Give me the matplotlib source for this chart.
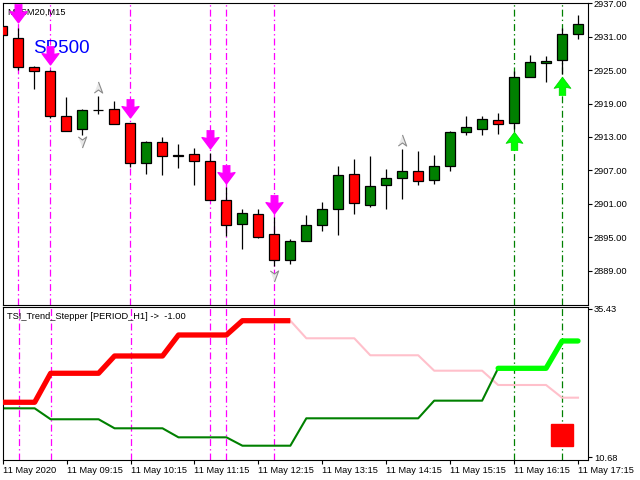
import numpy as np
import matplotlib
matplotlib.use("Agg")
import matplotlib.pyplot as plt

plt.rcParams['font.family'] = ['Liberation Sans', 'DejaVu Sans']
plt.rcParams['lines.scale_dashes'] = False

# candles, 15 min bars from 08:15 to 17:15
opens  = [2932.9, 2930.84, 2925.5, 2924.79, 2916.84, 2914.5, 2917.9, 2917.97, 2915.46, 2908.4,
          2912.17, 2909.7, 2910.02, 2908.76, 2901.76, 2897.45, 2899.24, 2895.65, 2890.98, 2894.4,
          2897.27, 2900.14, 2906.43, 2900.86, 2904.45, 2905.71, 2906.97, 2905.35, 2907.86, 2913.97,
          2914.5, 2916.0, 2915.58, 2923.84, 2926.35, 2926.82, 2931.49]
highs  = [2933.6, 2932.64, 2925.74, 2925.0, 2920.12, 2918.0, 2920.43, 2919.4, 2915.6, 2912.2,
          2913.0, 2911.69, 2910.97, 2910.08, 2904.08, 2900.0, 2900.0, 2898.58, 2894.76, 2898.94,
          2901.27, 2907.74, 2908.99, 2909.53, 2907.2, 2910.79, 2910.43, 2909.71, 2914.15, 2916.71,
          2916.71, 2917.25, 2924.79, 2927.66, 2927.48, 2932.57, 2934.85]
lows   = [2930.8, 2925.1, 2921.61, 2916.48, 2914.1, 2913.36, 2917.2, 2915.4, 2907.6, 2906.35,
          2906.17, 2907.5, 2904.45, 2901.7, 2895.22, 2892.89, 2894.9, 2889.85, 2890.2, 2894.3,
          2896.12, 2895.4, 2899.17, 2900.43, 2900.07, 2901.87, 2904.45, 2904.63, 2906.97, 2913.36,
          2913.36, 2913.6, 2914.5, 2923.8, 2922.94, 2924.25, 2930.54]
closes = [2931.3, 2925.64, 2924.92, 2916.77, 2914.15, 2917.79, 2917.8, 2915.4, 2908.4, 2912.04,
          2909.66, 2909.6, 2908.76, 2901.76, 2897.27, 2899.42, 2895.1, 2890.98, 2894.27, 2897.27,
          2900.14, 2906.25, 2901.22, 2904.27, 2905.71, 2906.97, 2905.17, 2907.86, 2913.97, 2914.74,
          2916.17, 2915.4, 2923.84, 2926.41, 2926.71, 2931.56, 2933.36]

# signals
sell_bars = [1, 3, 8, 13, 14, 17]
sell_y = [2935.2, 2927.67, 2918.15, 2912.59, 2906.31, 2901.01]
buy_bars = [32, 35]
buy_y = [2912.32, 2922.10]
gray_up_bars = [6, 25]
gray_up_y = [2922.01, 2912.41]
gray_dn_bars = [5, 17]
gray_dn_y = [2912.05, 2888.09]

# indicator lines
upper = [19.83, 19.83, 19.83, 24.68, 24.68, 24.68, 24.68, 27.57, 27.57, 27.57,
         27.57, 31.08, 31.08, 31.08, 31.08, 33.47, 33.47, 33.47, 33.47, 30.53,
         30.53, 30.53, 30.53, 27.69, 27.69, 27.69, 27.69, 25.11, 25.11, 25.11,
         25.11, 22.72, 22.72, 22.72, 22.72, 20.60, 20.60]
lower = [18.82, 18.82, 18.82, 16.99, 16.99, 16.99, 16.99, 15.48, 15.48, 15.48,
         15.48, 13.97, 13.97, 13.97, 13.97, 12.57, 12.57, 12.57, 12.57, 17.15,
         17.15, 17.15, 17.15, 17.15, 17.15, 17.15, 17.15, 20.10, 20.10, 20.10,
         20.10, 25.51, 25.51, 25.51, 25.51, 30.08, 30.08]
red_end = 18
lime_start = 31
square_bar = 35
square_val = 14.31

price_ticks = [2937, 2931, 2925, 2919, 2913, 2907, 2901, 2895, 2889]
time_bars = [0, 4, 8, 12, 16, 20, 24, 28, 32, 36]
time_labels = ['11 May 2020', '11 May 09:15', '11 May 10:15', '11 May 11:15', '11 May 12:15',
               '11 May 13:15', '11 May 14:15', '11 May 15:15', '11 May 16:15', '11 May 17:15']

x = np.arange(len(opens))
o = np.array(opens); c = np.array(closes)

fig = plt.figure(figsize=(6.4, 4.8), dpi=100)
ax = fig.add_axes([2.7/640, 175/480, 585/640, 302.3/480])
ax2 = fig.add_axes([2.7/640, 20/480, 585/640, 153/480])

for a in (ax, ax2):
    a.set_xlim(0.044, 36.606)
    for s in a.spines.values():
        s.set_linewidth(0.8)
        s.set_color('black')

ax.set_ylim(2882.84, 2937.11)
ax2.set_ylim(10.18, 35.76)

# vertical signal lines
dd = (0, (5, 2.2, 1, 2.2))
for b in sell_bars:
    for a in (ax, ax2):
        a.axvline(b, color='#ff00ff', lw=0.9, ls=dd, zorder=0)
for b in buy_bars:
    for a in (ax, ax2):
        a.axvline(b, color='#008000', lw=0.9, ls=dd, zorder=0)

# candles
cols = np.where(c >= o, '#008000', '#ff0000')
ax.vlines(x, lows, highs, color='black', lw=0.9, zorder=2)
ax.bar(x, np.abs(c - o), bottom=np.minimum(o, c), width=0.62, color=cols,
       edgecolor='black', linewidth=0.9, zorder=3)

down_arrow = [(0.35, 1), (0.35, 0.1), (0.9, 0.2), (0, -1), (-0.9, 0.2), (-0.35, 0.1), (-0.35, 1)]
up_arrow = [(px, -py) for px, py in down_arrow]
ax.plot(sell_bars, sell_y, ls='none', marker=down_arrow, ms=13.5, color='#ff00ff', mec='#ff00ff', zorder=5)
ax.plot(buy_bars, buy_y, ls='none', marker=up_arrow, ms=13.5, color='#00ff00', mec='#00cc00', mew=0.5, zorder=5)

head_up = [(0, 1), (0.75, -1), (0, -0.45), (-0.75, -1)]
head_dn = [(px, -py) for px, py in head_up]
ax.plot(gray_up_bars, gray_up_y, ls='none', marker=head_up, ms=8, mfc='#e8e8e8', mec='#8a8a8a', mew=0.8, zorder=5)
ax.plot(gray_dn_bars, gray_dn_y, ls='none', marker=head_dn, ms=8, mfc='#e8e8e8', mec='#8a8a8a', mew=0.8, zorder=5)

ax.text(0.0075, 0.983, 'MESM20,M15', transform=ax.transAxes, fontsize=6.7, va='top', ha='left', zorder=4)
ax.text(0.052, 0.85, 'SP500', transform=ax.transAxes, fontsize=13.5, color='#0000ff', va='center', ha='left')

ax.yaxis.tick_right()
ax.set_yticks(price_ticks)
ax.set_yticklabels(['%.2f' % p for p in price_ticks])
ax.set_xticks([])
ax.tick_params(axis='y', direction='out', length=3, width=0.8, labelsize=6.7, pad=1.5)

# indicator
ax2.plot(x[:red_end + 1], upper[:red_end + 1], color='#ff0000', lw=3.8, zorder=3, solid_capstyle='butt')
ax2.plot(x[red_end:], upper[red_end:], color='#ffc0cb', lw=1.5, zorder=2)
ax2.plot(x[:lime_start + 1], lower[:lime_start + 1], color='#008000', lw=1.5, zorder=2)
ax2.plot(x[lime_start:], lower[lime_start:], color='#00ff00', lw=3.8, zorder=3, solid_capstyle='round')
ax2.plot([square_bar], [square_val], ls='none', marker='s', ms=16.5, color='#ff0000', zorder=4)

ax2.text(0.0075, 0.94, 'TSI_Trend_Stepper [PERIOD_H1] ->  -1.00', transform=ax2.transAxes,
         fontsize=6.7, va='center', ha='left')

ax2.yaxis.tick_right()
ax2.set_yticks([35.43, 10.68])
ax2.set_yticklabels(['35.43', '10.68'])
ax2.tick_params(axis='y', direction='out', length=3, width=0.8, labelsize=6.7, pad=1.5)
ax2.set_xticks(time_bars)
ax2.set_xticklabels(time_labels, ha='left')
ax2.tick_params(axis='x', direction='out', length=3, width=0.8, labelsize=6.7, pad=1)

fig.savefig('out.png', dpi=100, facecolor='white')
